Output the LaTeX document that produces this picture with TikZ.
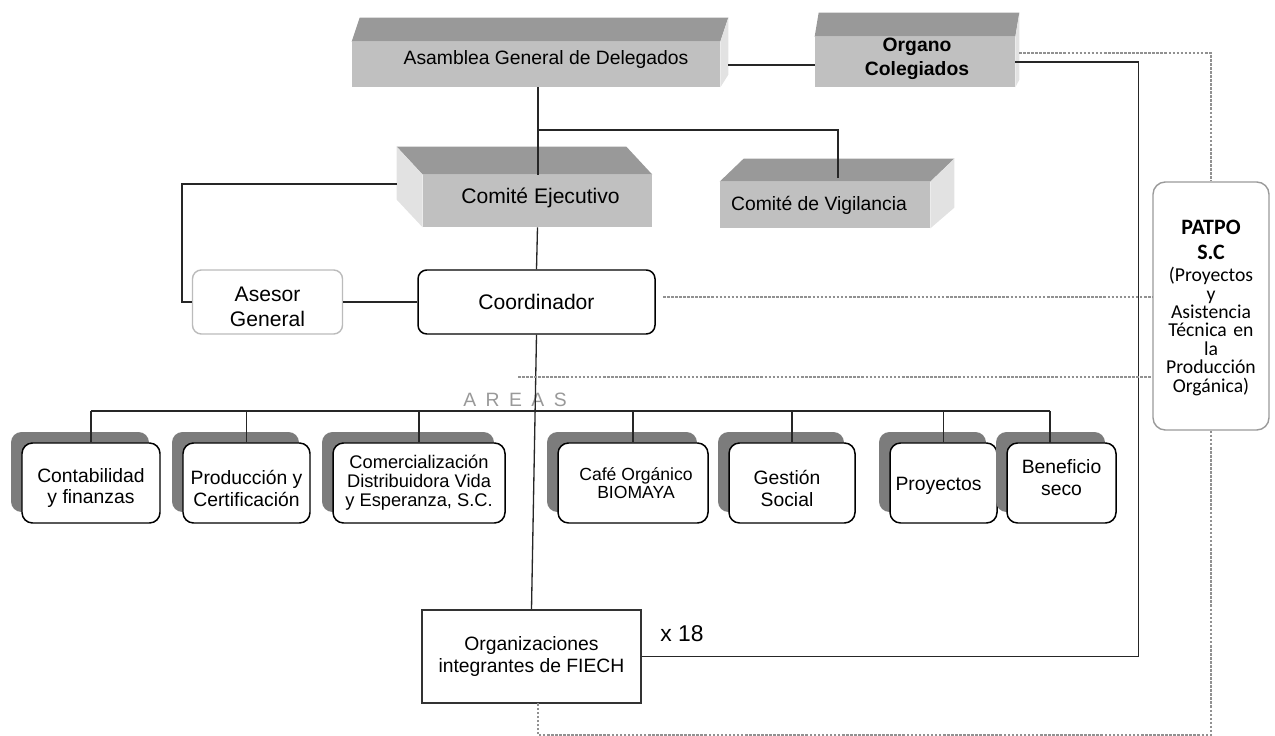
\documentclass[tikz,border=0pt]{standalone}
\usepackage{fontspec}
\setmainfont{Liberation Sans}
\newfontfamily\patpofont{Carlito}
\usetikzlibrary{calc,shadows}

\definecolor{topgray}{HTML}{999999}
\definecolor{frontgray}{HTML}{C0C0C0}
\definecolor{sidegray}{HTML}{E2E2E2}
\definecolor{shadowgray}{HTML}{7C7C7C}
\definecolor{dotgray}{HTML}{919191}
\definecolor{rimgray}{HTML}{BBBBBB}
\definecolor{framegray}{HTML}{9A9A9A}
\definecolor{areagray}{HTML}{999999}

\tikzset{
  sz/.style 2 args={minimum width={#1*0.02cm}, minimum height={#2*0.02cm}},
  face/.style={fill=frontgray, draw=none, inner sep=0pt},
  txt/.style={inner sep=0pt, align=center},
  link/.style={draw=black!85, line width=0.75pt},
  dotlink/.style={draw=dotgray, line width=1.6pt, dash pattern=on 1.5pt off 0.8pt},
  softbox/.style={draw=rimgray, line width=0.8pt, fill=white, rounded corners=5pt},
  boldbox/.style={draw=black, line width=0.85pt, fill=white, rounded corners=5pt},
  areabox/.style={draw=black, line width=0.85pt, fill=white, rounded corners=6pt,
    general shadow={shadow xshift=-0.22cm, shadow yshift=0.22cm, fill=shadowgray, draw=none}},
  areatext/.style={txt, font=\fontsize{11}{12.5}\selectfont},
  plainbox/.style={draw=black!80, line width=0.9pt, fill=white},
  patpobox/.style={draw=framegray, line width=0.8pt, fill=white, rounded corners=7pt},
}

\begin{document}
\begin{tikzpicture}[x=0.02cm,y=-0.02cm]
\useasboundingbox (0,0) rectangle (1275,736);

% ---- governing bodies: front faces of the blocks
\node[face, sz={368}{45}] (asamblea) at (536,64.5) {};
\node[face, sz={200}{50}] (organo) at (915,62) {};
\node[face, sz={229}{52}] (ejecutivo) at (537.5,201) {};
\node[face, sz={210}{46}] (vigilancia) at (825,205) {};

% top and side faces
\fill[topgray] (asamblea.north west) -- ++(8,-24) -- ($(asamblea.north east)+(8,-24)$) -- (asamblea.north east) -- cycle;
\fill[sidegray] (asamblea.north east) -- ++(8,-24) -- ++(0,57) -- (asamblea.south east) -- cycle;

\fill[topgray] (organo.north west) -- ++(4,-24) -- ($(organo.north east)+(4,-24)$) -- (organo.north east) -- cycle;
\fill[sidegray] (organo.north east) -- ++(4,-24) -- ++(0,67) -- (organo.south east) -- cycle;

\fill[topgray] (ejecutivo.north west) -- ++(-26,-28) -- ($(ejecutivo.north east)+(-26,-28)$) -- (ejecutivo.north east) -- cycle;
\fill[sidegray] (ejecutivo.north west) -- ++(-26,-28) -- ++(0,53) -- (ejecutivo.south west) -- cycle;

\fill[topgray] (vigilancia.north west) -- ++(24,-23) -- ($(vigilancia.north east)+(24,-23)$) -- (vigilancia.north east) -- cycle;
\fill[sidegray] (vigilancia.north east) -- ++(24,-23) -- ++(0,49) -- (vigilancia.south east) -- cycle;

% block labels
\node[txt, font=\fontsize{11}{13}\selectfont] (asamblea-t) at ($(asamblea.center)+(10,-5)$) {Asamblea General de Delegados};
\node[txt, font=\fontsize{11}{14}\selectfont\bfseries] (organo-t) at ($(organo.center)+(2,-3)$) {Organo\\Colegiados};
\node[txt, font=\fontsize{12}{14}\selectfont] (ejecutivo-t) at ($(ejecutivo.center)+(3,-3)$) {Comité Ejecutivo};
\node[txt, font=\fontsize{11}{13}\selectfont] (vigilancia-t) at ($(vigilancia.center)+(-6,0)$) {Comité de Vigilancia};

% ---- staff
\node[softbox, sz={150}{64}] (asesor) at (267.5,302) {};
\node[txt, font=\fontsize{12}{14}\selectfont] (asesor-t) at ($(asesor.center)+(0,5)$) {Asesor\\General};
\node[boldbox, sz={237}{64}] (coord) at (536.5,302) {};
\node[txt, font=\fontsize{12}{14}\selectfont] (coord-t) at (coord.center) {Coordinador};

% ---- advisory body
\node[patpobox, sz={116}{248}] (patpo) at (1211,306) {};
\node[txt, text width=2.2cm, font=\patpofont\fontsize{11.2}{10.5}\selectfont] (patpo-t) at (1211,308)
  {{\fontsize{12.5}{10.5}\selectfont\bfseries PATPO}\\[3.7pt]
   {\fontsize{12.5}{10.5}\selectfont\bfseries S.C}\\[2pt]
   (Proyectos\\y\\Asistencia\\Técnica en\\la\\Producción\\Orgánica)};

% ---- areas
\node[txt, text=areagray, font=\fontsize{11}{13}\selectfont] (areas) at (515,400)
  {A\kern5.4pt R\kern5.4pt E\kern5.4pt A\kern5.4pt S};

\node[areabox, sz={138}{80}] (contab) at (91,483) {};
\node[areabox, sz={127}{80}] (produc) at (246.5,483) {};
\node[areabox, sz={172}{80}] (comerc) at (419,483) {};
\node[areabox, sz={150}{80}] (cafe) at (633,483) {};
\node[areabox, sz={126}{80}] (gestion) at (792,483) {};
\node[areabox, sz={107}{80}] (proyectos) at (943.5,483) {};
\node[areabox, sz={109}{80}] (benef) at (1061.5,483) {};

\node[areatext] (contab-t) at ($(contab.center)+(0,5)$) {Contabilidad\\y finanzas};
\node[areatext] (produc-t) at ($(produc.center)+(0,5)$) {Producción y\\Certificación};
\node[areatext, font=\fontsize{10.4}{10.9}\selectfont] (comerc-t) at (comerc.center) {Comercialización\\Distribuidora Vida\\y Esperanza, S.C.};
\node[areatext, font=\fontsize{10}{10.4}\selectfont] (cafe-t) at ($(cafe.center)+(3,0)$) {Café Orgánico\\BIOMAYA};
\node[areatext] (gestion-t) at ($(gestion.center)+(-5,5)$) {Gestión\\Social};
\node[areatext] (proyectos-t) at ($(proyectos.center)+(-5,3)$) {Proyectos};
\node[areatext] (benef-t) at ($(benef.center)+(0,-5)$) {Beneficio\\seco};

% ---- member organisations
\node[plainbox, sz={219}{93}] (org) at (531.5,656.5) {};
\node[txt, font=\fontsize{11}{12.5}\selectfont] (org-t) at (org.center) {Organizaciones\\integrantes de FIECH};
\node[txt, font=\fontsize{13}{15}\selectfont] (times) at (682,634) {x 18};

% ---- anchor points on the block faces
\coordinate (asmside) at (728,65);
\coordinate (orgleft) at (815,65);
\coordinate (branch) at (538,130);
\coordinate (vigtop) at (838,178);
\coordinate (ejeside) at (397,184);
\coordinate (orgdotout) at (1019,53);
\coordinate (coorddot) at (663,297);
\coordinate (areadot) at (518,377);
\coordinate (benefdrop) at (1050,443);
\coordinate (orgdotin) at (538,703);

% ---- solid connectors
\draw[link] (asamblea.south -| branch) -- (branch |- ejecutivo.north);
\draw[link] (branch) -| (vigtop);
\draw[link] (asmside) -- (orgleft);
\draw[link] (ejeside) -- ++(-215,0) |- (asesor.west);
\draw[link] (asesor.east) -- (coord.west);
\draw[link] (ejecutivo.south) -- (coord.north);
\draw[link] (coord.south) -- (org.north);
\draw[link] (organo.east) -- ++(123,0) |- (org.east);

% bus to the areas
\draw[link] (contab.north |- 0,411) -- (benefdrop |- 0,411);
\foreach \b in {contab,produc,comerc,cafe,gestion,proyectos}
  \draw[link] (\b.north |- 0,411) -- (\b.north);
\draw[link] (benefdrop |- 0,411) -- (benefdrop);

% ---- dotted links to the advisory body
\draw[dotlink] (orgdotout) -| (patpo.north);
\draw[dotlink] (coorddot) -- (coorddot -| patpo.west);
\draw[dotlink] (areadot) -- (areadot -| patpo.west);
\draw[dotlink] (patpo.south) -- (1211,735) -- (538,735) -- (orgdotin);
\end{tikzpicture}
\end{document}
